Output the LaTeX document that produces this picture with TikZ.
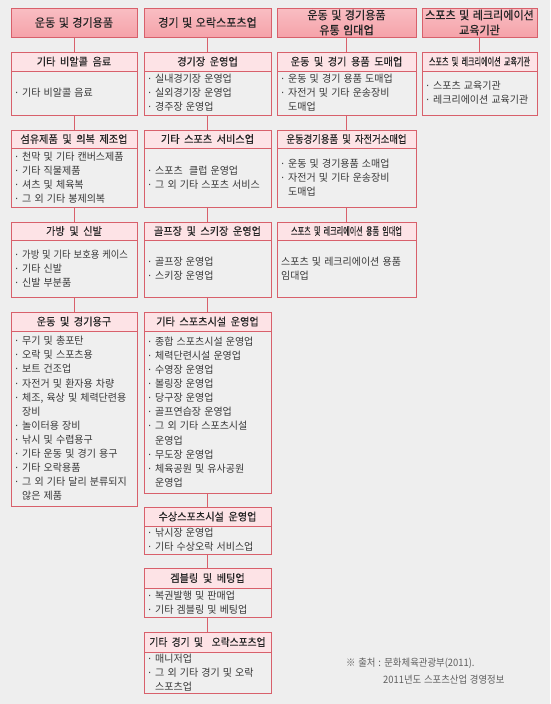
\documentclass[tikz,border=0pt]{standalone}
\usepackage{fontspec}
\usepackage{graphicx}
\setmainfont[WordSpace=1.4,FakeStretch=0.98]{Noto Sans CJK KR}
\newfontfamily\tfont[WordSpace=2,FakeStretch=0.94,FakeBold=0.3]{Noto Sans CJK KR}
\newfontfamily\hfont[WordSpace=1.4,FakeStretch=0.945,FakeBold=0.4]{Noto Sans CJK KR}
\newfontfamily\nfont[WordSpace=1.3,FakeStretch=0.92]{Noto Sans CJK KR}
\newfontfamily\dvs{DejaVu Sans}
\definecolor{bd}{HTML}{D8606B}
\definecolor{hdtop}{HTML}{F9BEC3}
\definecolor{hdbot}{HTML}{F5A2A9}
\definecolor{ttl}{HTML}{FDE3E6}
\definecolor{bg}{HTML}{EEEEEE}
\definecolor{bdy}{HTML}{EFEFEF}
\definecolor{txt}{HTML}{383838}
\newcommand\bl{\makebox[7pt][l]{\dvs ·}}
\newcommand\cnt{\hspace*{7pt}}
\newcommand\catbox[8]{%
  \node[titlebox, minimum width=#3pt, minimum height=#5pt, anchor=north west] (#1t) at (#2,#4) {#7};
  \node[bodybox, minimum width=#3pt, minimum height=#6pt, anchor=north west] (#1b) at (#1t.south west) {};
  \node[bodytext, anchor=west] (#1x) at ([xshift=4pt]#1b.west) {#8};
}
\tikzset{
  hdr/.style={draw=bd, line width=0.9pt, top color=hdtop, bottom color=hdbot, inner sep=0pt, outer sep=0pt,
    align=center, text=black!85, font={\hfont\fontsize{11.7}{15}\selectfont}},
  titlebox/.style={draw=bd, line width=0.9pt, fill=ttl, inner sep=0pt, outer sep=0pt,
    align=center, text=black!85, font={\tfont\fontsize{10.8}{14}\selectfont}},
  bodybox/.style={draw=bd, line width=0.9pt, fill=bdy, inner sep=0pt, outer sep=0pt},
  bodytext/.style={inner sep=0pt, align=left, text=txt, font={\fontsize{10.2}{14.1}\selectfont}},
  conn/.style={draw=bd, line width=0.9pt},
  note/.style={inner sep=0pt, anchor=west, text=black!62, font={\nfont\fontsize{10.2}{12}\selectfont}}
}
\begin{document}
\begin{tikzpicture}[x=1pt,y=-1pt]
\fill[bg] (0,0) rectangle (550,704);
\useasboundingbox (0,0) rectangle (550,704);
% headers
\node[hdr, minimum width=126pt, minimum height=29pt, anchor=north west] (h1) at (11,8) {운동 및 경기용품};
\node[hdr, minimum width=127pt, minimum height=29pt, anchor=north west] (h2) at (144,8) {경기 및 오락스포츠업};
\node[hdr, minimum width=139pt, minimum height=29pt, anchor=north west] (h3) at (277,8) {운동 및 경기용품\\유통 임대업};
\node[hdr, minimum width=115pt, minimum height=29pt, anchor=north west] (h4) at (422,8) {스포츠 및 레크리에이션\\교육기관};
% column 1
\catbox{c1a}{11}{126}{52}{19}{44}{기타 비알콜 음료}{\bl 기타 비알콜 음료}
\catbox{c1b}{11}{126}{130}{18}{59}{섬유제품 및 의복 제조업}{\bl 천막 및 기타 캔버스제품\\\bl 기타 직물제품\\\bl 셔츠 및 체육복\\\bl 그 외 기타 봉제의복}
\catbox{c1c}{11}{126}{222}{18}{57}{가방 및 신발}{\bl \scalebox{0.93}[1]{가방 및 기타 보호용 케이스}\\\bl 기타 신발\\\bl 신발 부분품}
\catbox{c1d}{11}{126}{312}{19}{175}{운동 및 경기용구}{\bl 무기 및 총포탄\\\bl 오락 및 스포츠용\\\bl 보트 건조업\\\bl 자전거 및 환자용 차량\\\bl 체조, 육상 및 체력단련용\\\cnt 장비\\\bl 놀이터용 장비\\\bl 낚시 및 수렵용구\\\bl 기타 운동 및 경기 용구\\\bl 기타 오락용품\\\bl 그 외 기타 달리 분류되지\\\cnt 않은 제품}
% column 2
\catbox{c2a}{144}{127}{52}{19}{44}{경기장 운영업}{\bl 실내경기장 운영업\\\bl 실외경기장 운영업\\\bl 경주장 운영업}
\catbox{c2b}{144}{127}{130}{18}{59}{기타 스포츠 서비스업}{\bl 스포츠\ \ 클럽 운영업\\\bl 그 외 기타 스포츠 서비스}
\catbox{c2c}{144}{127}{222}{18}{57}{골프장 및 스키장 운영업}{\bl 골프장 운영업\\\bl 스키장 운영업}
\catbox{c2d}{144}{127}{312}{19}{162}{기타 스포츠시설 운영업}{\bl 종합 스포츠시설 운영업\\\bl 체력단련시설 운영업\\\bl 수영장 운영업\\\bl 볼링장 운영업\\\bl 당구장 운영업\\\bl 골프연습장 운영업\\\bl 그 외 기타 스포츠시설\\\cnt 운영업\\\bl 무도장 운영업\\\bl 체육공원 및 유사공원\\\cnt 운영업}
\catbox{c2e}{144}{127}{507}{19}{28}{수상스포츠시설 운영업}{\bl 낚시장 운영업\\\bl 기타 수상오락 서비스업}
\catbox{c2f}{144}{127}{568}{20}{29}{겜블링 및 베팅업}{\bl 복권발행 및 판매업\\\bl 기타 겜블링 및 베팅업}
\catbox{c2g}{144}{127}{632}{20}{41}{\scalebox{0.96}[1]{기타 경기 및\ \ 오락스포츠업}}{\bl 매니저업\\\bl 그 외 기타 경기 및 오락\\\cnt 스포츠업}
% column 3
\catbox{c3a}{277}{139}{52}{19}{44}{운동 및 경기 용품 도매업}{\bl 운동 및 경기 용품 도매업\\\bl 자전거 및 기타 운송장비\\\cnt 도매업}
\catbox{c3b}{277}{139}{130}{18}{59}{\scalebox{0.92}[1]{운동경기용품 및 자전거소매업}}{\bl 운동 및 경기용품 소매업\\\bl 자전거 및 기타 운송장비\\\cnt 도매업}
\catbox{c3c}{277}{139}{222}{18}{57}{\scalebox{0.7}[1]{스포츠 및 레크리에이션 용품 임대업}}{스포츠 및 레크리에이션 용품\\임대업}
% column 4
\catbox{c4a}{422}{115}{52}{19}{44}{\scalebox{0.7}[1]{스포츠 및 레크리에이션 교육기관}}{\bl 스포츠 교육기관\\\bl 레크리에이션 교육기관}
% connectors
\draw[conn] (h1.south) -- (c1at.north);
\draw[conn] (c1ab.south) -- (c1bt.north);
\draw[conn] (c1bb.south) -- (c1ct.north);
\draw[conn] (c1cb.south) -- (c1dt.north);
\draw[conn] (h2.south) -- (c2at.north);
\draw[conn] (c2ab.south) -- (c2bt.north);
\draw[conn] (c2bb.south) -- (c2ct.north);
\draw[conn] (c2cb.south) -- (c2dt.north);
\draw[conn] (c2db.south) -- (c2et.north);
\draw[conn] (c2eb.south) -- (c2ft.north);
\draw[conn] (c2fb.south) -- (c2gt.north);
\draw[conn] (h3.south) -- (c3at.north);
\draw[conn] (c3ab.south) -- (c3bt.north);
\draw[conn] (c3bb.south) -- (c3ct.north);
\draw[conn] (h4.south) -- (c4at.north);
% source note
\node[note] (n1) at (346,663) {※ 출처 : 문화체육관광부(2011).};
\node[note] (n2) at (383,680) {2011년도 스포츠산업 경영정보};
\end{tikzpicture}
\end{document}
